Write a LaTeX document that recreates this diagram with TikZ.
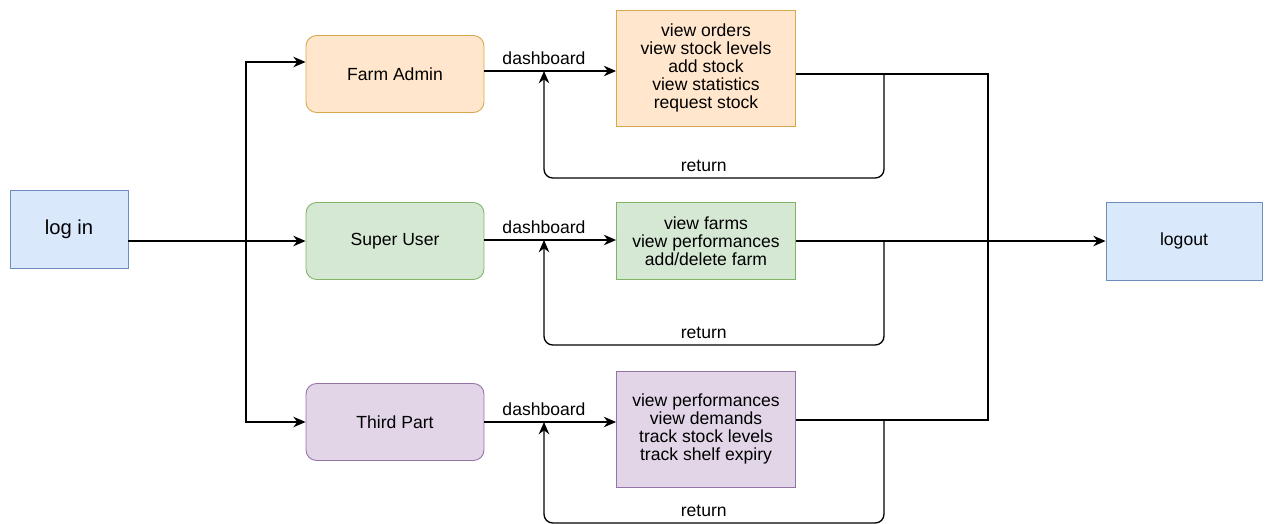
\documentclass[tikz,border=0pt]{standalone}
\usepackage{fontspec}
\setmainfont{Liberation Sans}
\usetikzlibrary{arrows.meta,calc}

\definecolor{adminFill}{HTML}{FFE6CC}
\definecolor{adminLine}{HTML}{D6A84B}
\definecolor{superFill}{HTML}{D5E8D4}
\definecolor{superLine}{HTML}{82B366}
\definecolor{thirdFill}{HTML}{E1D5E7}
\definecolor{thirdLine}{HTML}{9673A6}
\definecolor{endFill}{HTML}{DAE8FC}
\definecolor{endLine}{HTML}{6C8EBF}

\begin{document}
\begin{tikzpicture}[x=0.02cm, y=-0.02cm,
  >={Stealth[length=7pt,width=6pt]},
  line width=0.75pt,
  font=\fontsize{10}{10.3}\selectfont,
  role/.style={draw, line width=0.5pt, rounded corners=6pt, minimum width=3.56cm, minimum height=1.54cm},
  menu/.style={draw, line width=0.5pt, align=center, minimum width=3.58cm},
  endbox/.style={draw=endLine, fill=endFill, line width=0.5pt, minimum height=1.56cm}]

\useasboundingbox (0,0) rectangle (1275,524);

% ======================
% Start and end
% ======================
\node[endbox, minimum width=2.36cm, font=\fontsize{11.5}{12}\selectfont] (login) at (69,229) {log in};
\node[endbox, minimum width=3.12cm] (logout) at (1184,241) {logout};

% ======================
% Roles
% ======================
\node[role, fill=adminFill, draw=adminLine] (admin) at (395,74) {Farm Admin};
\node[role, fill=superFill, draw=superLine] (super) at (395,241) {Super User};
\node[role, fill=thirdFill, draw=thirdLine] (third) at (395,422) {Third Part};

% ======================
% Dashboards
% ======================
\node[menu, fill=adminFill, draw=adminLine, minimum height=2.32cm] (adminmenu) at (706,68)
{view orders\\view stock levels\\add stock\\view statistics\\request stock};
\node[menu, fill=superFill, draw=superLine, minimum height=1.54cm] (supermenu) at (706,241)
{view farms\\view performances\\add/delete farm};
\node[menu, fill=thirdFill, draw=thirdLine, minimum height=2.32cm] (thirdmenu) at (706,429)
{view performances\\view demands\\track stock levels\\track shelf expiry};

% ======================
% Log in split
% ======================
\coordinate (split) at (246,241);
\draw (login.east |- split) -- (split);
\draw[->] (split) |- ($(admin.west)+(0,-12)$);
\draw[->] (split) -- (super.west);
\draw[->] (split) |- (third.west);

% ======================
% Dashboard links
% ======================
\coordinate (admindash) at (544,71);
\coordinate (superdash) at (544,240);
\coordinate (thirddash) at (544,422);
\draw[->] (admin.east |- admindash) -- (adminmenu.west |- admindash);
\draw[->] (super.east |- superdash) -- (supermenu.west |- superdash);
\draw[->] (third.east |- thirddash) -- (thirdmenu.west |- thirddash);
\node[above=0pt] (adminlbl) at (admindash) {dashboard};
\node[above=0pt] (superlbl) at (superdash) {dashboard};
\node[above=0pt] (thirdlbl) at (thirddash) {dashboard};

% ======================
% Return loops
% ======================
\draw[->, rounded corners=5pt] (884,74) -- (884,178) -- node[above, pos=0.53] (adminret) {return} (544,178) -- (admindash);
\draw[->, rounded corners=5pt] (884,241) -- (884,345) -- node[above, pos=0.53] (superret) {return} (544,345) -- (superdash);
\draw[->, rounded corners=5pt] (884,420) -- (884,523) -- node[above, pos=0.53] (thirdret) {return} (544,523) -- (thirddash);

% ======================
% Logout
% ======================
\coordinate (adminexit) at (988,74);
\coordinate (thirdexit) at (988,420);
\draw (adminmenu.east |- adminexit) -- (adminexit) -- (thirdexit) -- (thirdmenu.east |- thirdexit);
\draw[->] (supermenu.east) -- (logout.west);

\end{tikzpicture}
\end{document}
